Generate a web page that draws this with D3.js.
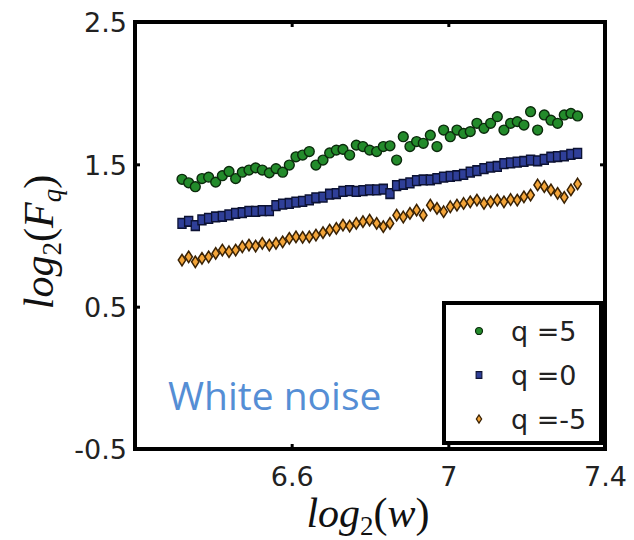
<!DOCTYPE html>
<html>
<head>
<meta charset="utf-8">
<script src="https://cdn.jsdelivr.net/npm/d3@7"></script>
<style>
  html, body { margin: 0; padding: 0; background: #fff; }
  svg { display: block; }
</style>
</head>
<body>
<svg id="chart" width="634" height="540"></svg>
<script>
// log2(w) grid shared by the three series
const logW = [6.320, 6.337, 6.354, 6.371, 6.388, 6.406, 6.423, 6.440, 6.457, 6.474,
  6.491, 6.508, 6.525, 6.543, 6.560, 6.577, 6.594, 6.611, 6.628, 6.645,
  6.662, 6.680, 6.697, 6.714, 6.731, 6.748, 6.765, 6.782, 6.799, 6.817,
  6.834, 6.851, 6.868, 6.885, 6.902, 6.919, 6.936, 6.954, 6.971, 6.988,
  7.005, 7.022, 7.039, 7.056, 7.073, 7.091, 7.108, 7.125, 7.142, 7.159,
  7.176, 7.193, 7.210, 7.228, 7.245, 7.262, 7.279, 7.296, 7.313, 7.330];

// log2(Fq) for q = 5
const qPos5 = [1.395, 1.370, 1.343, 1.400, 1.410, 1.375, 1.420, 1.450, 1.400, 1.445,
  1.460, 1.475, 1.460, 1.440, 1.470, 1.445, 1.495, 1.553, 1.565, 1.590,
  1.495, 1.530, 1.580, 1.600, 1.605, 1.565, 1.635, 1.625, 1.600, 1.590,
  1.625, 1.630, 1.530, 1.694, 1.625, 1.660, 1.648, 1.705, 1.625, 1.741,
  1.694, 1.741, 1.717, 1.730, 1.788, 1.753, 1.788, 1.835, 1.741, 1.788,
  1.800, 1.776, 1.870, 1.741, 1.847, 1.810, 1.788, 1.847, 1.858, 1.840];

// log2(Fq) for q = 0
const q0 = [1.085, 1.100, 1.070, 1.110, 1.120, 1.130, 1.135, 1.145, 1.155, 1.160,
  1.170, 1.170, 1.175, 1.175, 1.210, 1.220, 1.225, 1.235, 1.240, 1.250,
  1.265, 1.270, 1.290, 1.295, 1.310, 1.315, 1.310, 1.315, 1.320, 1.320,
  1.325, 1.295, 1.350, 1.360, 1.370, 1.385, 1.390, 1.390, 1.400, 1.410,
  1.415, 1.420, 1.430, 1.445, 1.455, 1.470, 1.480, 1.485, 1.505, 1.510,
  1.515, 1.520, 1.530, 1.525, 1.535, 1.550, 1.555, 1.560, 1.570, 1.577];

// log2(Fq) for q = -5
const qNeg5 = [0.827, 0.850, 0.815, 0.840, 0.850, 0.874, 0.898, 0.886, 0.898, 0.921,
  0.933, 0.926, 0.945, 0.933, 0.945, 0.956, 0.980, 0.990, 0.987, 0.990,
  1.003, 1.020, 1.038, 1.050, 1.073, 1.066, 1.085, 1.097, 1.108, 1.085,
  1.062, 1.085, 1.143, 1.130, 1.155, 1.178, 1.143, 1.213, 1.190, 1.167,
  1.202, 1.213, 1.225, 1.237, 1.249, 1.225, 1.237, 1.249, 1.237, 1.253,
  1.249, 1.272, 1.284, 1.355, 1.343, 1.320, 1.296, 1.268, 1.320, 1.362];

const xTicks = [6.6, 7, 7.4];
const yTicks = [-0.5, 0.5, 1.5, 2.5];
const legendLabels = ["q =5", "q =0", "q =-5"];

// marker styles per series: symbol, area, x/y stretch
const series = [
  { label: legendLabels[0], values: qPos5, symbol: d3.symbolCircle, size: 76, sx: 1, sy: 1, fill: "#238b2b", stroke: "#0b2a0c" },
  { label: legendLabels[1], values: q0, symbol: d3.symbolSquare, size: 78, sx: 0.92, sy: 1.1, fill: "#2f3f98", stroke: "#0c1233" },
  { label: legendLabels[2], values: qNeg5, symbol: d3.symbolDiamond, size: 38, sx: 1.12, sy: 1, fill: "#f3a53a", stroke: "#3a2204" }
];

const svg = d3.select("#chart");
const plotLeft = 135, plotRight = 605, plotTop = 22, plotBottom = 449;

const x = d3.scaleLinear().domain([6.2, 7.4]).range([plotLeft, plotRight]);
const y = d3.scaleLinear().domain([-0.5, 2.5]).range([plotBottom, plotTop]);

const tickFont = "'DejaVu Sans', 'Liberation Sans', Arial, sans-serif";

// bottom axis (inward ticks)
const gx = svg.append("g")
  .attr("transform", `translate(0,${plotBottom})`)
  .call(d3.axisBottom(x).tickValues(xTicks).tickSize(-5).tickPadding(18)
    .tickFormat(d => String(d)));
// top axis ticks only
const gxTop = svg.append("g")
  .attr("transform", `translate(0,${plotTop})`)
  .call(d3.axisTop(x).tickValues(xTicks).tickSize(-5).tickFormat(""));
// left axis
const gy = svg.append("g")
  .attr("transform", `translate(${plotLeft},0)`)
  .call(d3.axisLeft(y).tickValues(yTicks).tickSize(-5).tickPadding(8)
    .tickFormat(d => String(d)));
// right axis ticks only
const gyRight = svg.append("g")
  .attr("transform", `translate(${plotRight},0)`)
  .call(d3.axisRight(y).tickValues(yTicks).tickSize(-5).tickFormat(""));

[gx, gxTop, gy, gyRight].forEach(g => {
  g.select(".domain").remove();
  g.selectAll(".tick line").attr("stroke", "#000").attr("stroke-width", 3);
  g.selectAll(".tick text")
    .attr("fill", "#222")
    .style("font-family", tickFont)
    .style("font-size", "27px");
});
gx.selectAll(".tick text").attr("dy", "0.71em");
gy.selectAll(".tick text").attr("dy", "0.36em");

function markerTransform(s, px, py) {
  return `translate(${px},${py}) scale(${s.sx},${s.sy})`;
}

// markers
series.forEach(s => {
  const sym = d3.symbol().type(s.symbol).size(s.size);
  svg.append("g")
    .selectAll("path")
    .data(s.values.map((v, i) => [logW[i], v]))
    .join("path")
    .attr("d", sym)
    .attr("transform", d => markerTransform(s, x(d[0]), y(d[1])))
    .attr("fill", s.fill)
    .attr("stroke", s.stroke)
    .attr("stroke-width", 1.4);
});

// annotation
svg.append("text")
  .attr("x", 168)
  .attr("y", 410)
  .attr("fill", "#558ed5")
  .style("font-family", "'Open Sans', 'Noto Sans', sans-serif")
  .style("font-size", "39px")
  .text("White noise");

// legend
const legend = svg.append("g");
legend.append("rect")
  .attr("x", 444).attr("y", 303)
  .attr("width", 157).attr("height", 140)
  .attr("fill", "#fff")
  .attr("stroke", "#000")
  .attr("stroke-width", 4);
series.forEach((s, i) => {
  const cy = 331 + i * 44;
  const sym = d3.symbol().type(s.symbol).size(s.size * 0.5);
  legend.append("path")
    .attr("d", sym)
    .attr("transform", markerTransform(s, 479, cy))
    .attr("fill", s.fill)
    .attr("stroke", s.stroke)
    .attr("stroke-width", 1.2);
  legend.append("text")
    .attr("x", 511)
    .attr("y", cy)
    .attr("dy", "0.36em")
    .attr("fill", "#222")
    .style("font-family", tickFont)
    .style("font-size", "27px")
    .text(s.label);
});

// frame
svg.append("rect")
  .attr("x", plotLeft).attr("y", plotTop)
  .attr("width", plotRight - plotLeft).attr("height", plotBottom - plotTop)
  .attr("fill", "none")
  .attr("stroke", "#000")
  .attr("stroke-width", 4);

// axis titles
const mathFont = "'Liberation Serif', 'DejaVu Serif', serif";
const xt = svg.append("text")
  .attr("x", 368).attr("y", 527)
  .attr("text-anchor", "middle")
  .attr("fill", "#111")
  .style("font-family", mathFont)
  .style("font-size", "42px");
xt.append("tspan").style("font-style", "italic").text("log");
xt.append("tspan").attr("dy", 8).style("font-size", "27px").text("2");
xt.append("tspan").attr("dy", -8).text("(");
xt.append("tspan").style("font-style", "italic").text("w");
xt.append("tspan").text(")");

const yt = svg.append("text")
  .attr("transform", "translate(53,242) rotate(-90)")
  .attr("text-anchor", "middle")
  .attr("fill", "#111")
  .style("font-family", mathFont)
  .style("font-size", "42px");
yt.append("tspan").style("font-style", "italic").text("log");
yt.append("tspan").attr("dy", 8).style("font-size", "27px").text("2");
yt.append("tspan").attr("dy", -8).text("(");
yt.append("tspan").style("font-style", "italic").text("F");
yt.append("tspan").attr("dy", 8).style("font-size", "27px").style("font-style", "italic").text("q");
yt.append("tspan").attr("dy", -8).text(")");
</script>
</body>
</html>
